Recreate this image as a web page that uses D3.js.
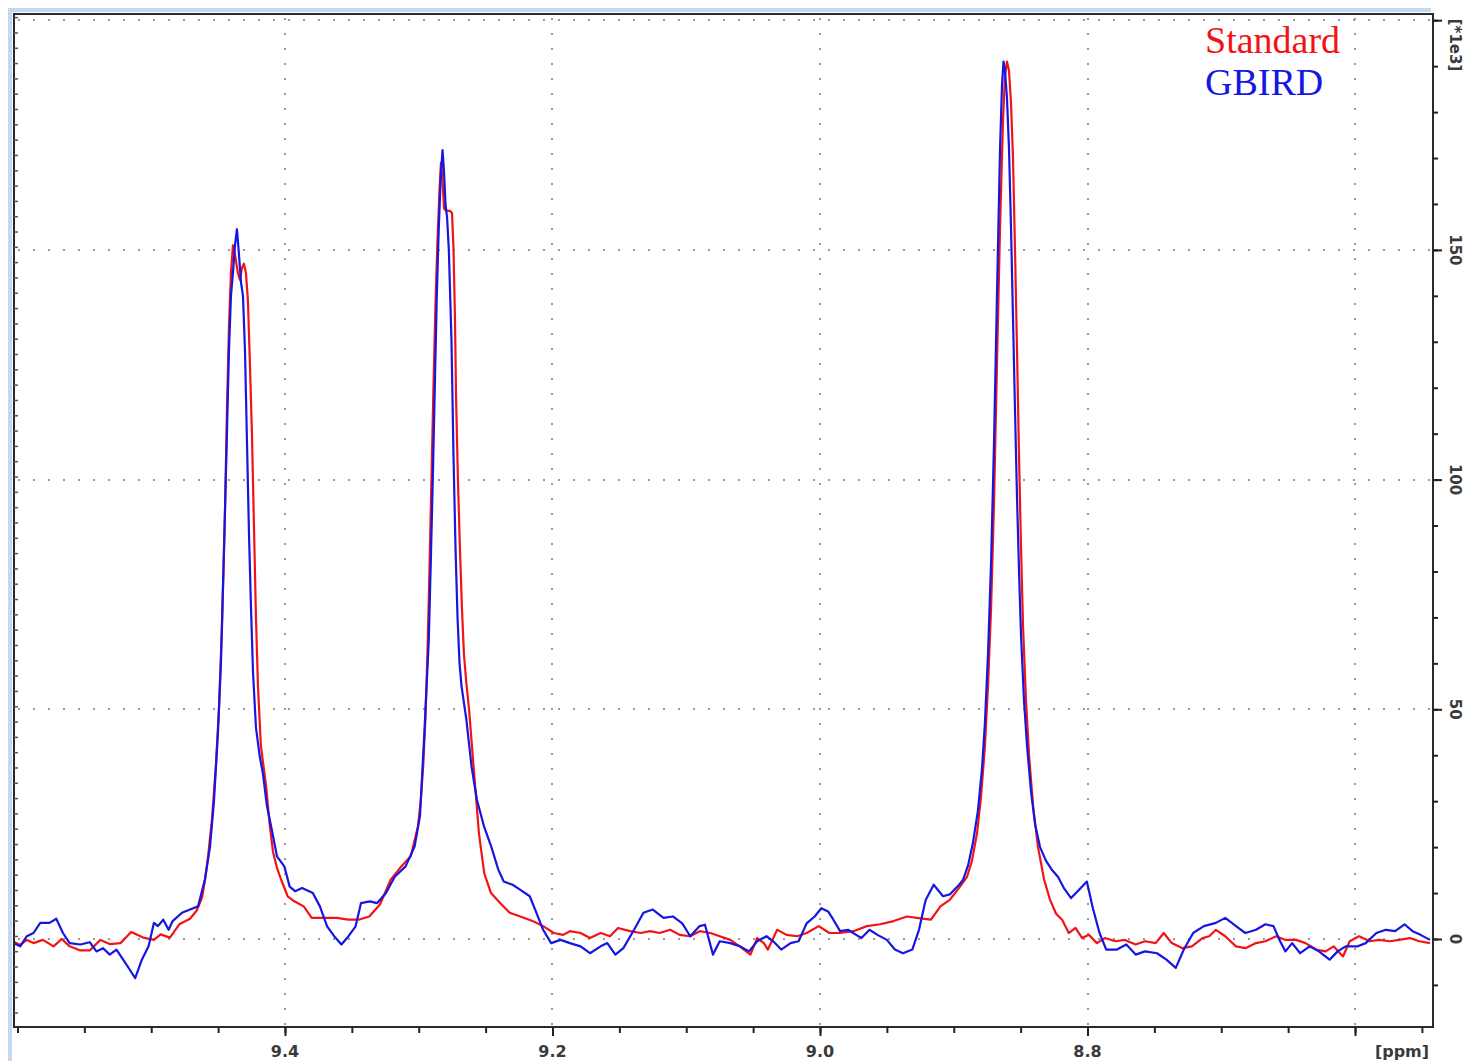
<!DOCTYPE html>
<html>
<head>
<meta charset="utf-8">
<script src="https://cdn.jsdelivr.net/npm/d3@7/dist/d3.min.js"></script>
<style>
  body { margin: 0; background: #fff; }
  svg { display: block; }
</style>
</head>
<body>
<div id="app"></div>
<script>
// [ppm, intensity (*1e3)]
const standardPts = [
  [9.603,-0.6],[9.598,-1.3],[9.593,-0.2],[9.588,-0.9],[9.581,-0.2],[9.573,-1.6],[9.567,0],[9.561,-1.6],
  [9.553,-2.5],[9.546,-2.5],[9.538,-0.2],[9.531,-1.1],[9.523,-0.9],[9.515,1.5],[9.506,0.3],[9.498,-0.2],
  [9.493,1],[9.486,0.3],[9.479,3.2],[9.471,4.4],[9.466,6.2],[9.462,9],
  [9.4598,12.9],[9.4575,18],[9.4546,26],[9.4516,38],[9.4494,50],[9.4471,68],[9.4449,92],[9.4434,115],
  [9.4419,133],[9.4404,145],[9.4389,151],[9.4374,149],[9.4352,145],[9.4337,143.5],[9.4322,146],[9.4307,147],
  [9.4292,145],[9.4277,139],[9.4262,125],[9.4247,110],[9.4232,90],[9.4217,70],[9.4202,55],[9.418,42],
  [9.414,33],[9.4115,25],[9.409,19],[9.406,15.5],[9.403,13],[9.398,9.3],[9.393,8.2],[9.386,7.1],
  [9.38,4.6],[9.371,4.6],[9.361,4.6],[9.353,4.2],[9.345,4.2],[9.337,4.9],[9.329,7.5],[9.321,12.9],
  [9.313,15.8],[9.306,18],[9.3006,24.5],[9.2985,30],[9.2966,38],[9.295,48],[9.2935,62],[9.292,80],
  [9.2905,100],[9.289,120],[9.2875,138],[9.286,152],[9.2845,163],[9.2834,169],[9.2822,165],[9.2811,159],
  [9.2796,158.5],[9.2781,158.5],[9.2766,158.5],[9.2751,158],[9.274,150],[9.2729,135],[9.2721,118],[9.2707,100],
  [9.2692,85],[9.2677,72],[9.2662,62],[9.2645,56],[9.2624,50],[9.259,37.5],[9.255,23],[9.251,14.3],
  [9.246,10],[9.239,7.8],[9.232,5.7],[9.224,4.9],[9.214,3.8],[9.207,2.8],[9.199,1.3],[9.192,0.9],
  [9.187,1.7],[9.179,1.3],[9.172,0.2],[9.164,1.3],[9.157,0.6],[9.151,2.4],[9.142,1.7],[9.134,1.3],
  [9.127,1.7],[9.12,1.3],[9.112,2],[9.105,0.9],[9.097,0.6],[9.09,1.7],[9.082,1.3],[9.075,0.6],
  [9.067,-0.2],[9.06,-1.6],[9.052,-3.4],[9.047,0.2],[9.042,-0.9],[9.039,-2.3],[9.032,2],[9.025,0.9],
  [9.017,0.6],[9.01,1.3],[9.001,2.8],[8.993,1.3],[8.985,1.3],[8.975,1.7],[8.965,2.8],[8.955,3.2],
  [8.945,3.9],[8.935,4.9],[8.925,4.5],[8.917,4.2],[8.91,7.1],[8.903,8.5],[8.895,11.5],
  [8.8901,13.5],[8.8864,17],[8.8826,23],[8.8796,31],[8.8767,42],[8.8744,55],[8.8721,72],[8.8699,95],
  [8.8677,125],[8.8654,155],[8.8632,178],[8.8617,188],[8.8602,191],[8.8587,189],[8.8572,182],[8.8557,170],
  [8.8542,150],[8.8527,128],[8.8512,105],[8.8497,85],[8.8482,68],[8.846,52],[8.8437,40],[8.8407,29],
  [8.837,20],[8.8325,13],[8.828,8.5],[8.8235,5.5],[8.819,4.2],[8.814,1.3],[8.809,2.4],[8.804,0.2],
  [8.799,0.9],[8.793,-0.9],[8.787,0.2],[8.779,-0.5],[8.772,-0.2],[8.764,-1.2],[8.757,-0.5],[8.749,-0.9],
  [8.743,1.3],[8.737,-0.9],[8.729,-2],[8.722,-1.6],[8.714,0.2],[8.709,0.6],[8.704,2],[8.697,0.6],
  [8.689,-1.6],[8.682,-2],[8.674,-0.9],[8.667,-0.5],[8.659,0.6],[8.652,-0.2],[8.644,-0.2],[8.637,-0.9],
  [8.629,-2.3],[8.622,-2.7],[8.616,-1.6],[8.609,-3.8],[8.604,-0.5],[8.597,0.6],[8.589,-0.5],[8.582,-0.2],
  [8.574,-0.5],[8.567,-0.2],[8.559,0.2],[8.552,-0.5],[8.544,-0.9]
];

const gbirdPts = [
  [9.603,-0.9],[9.598,-1.6],[9.593,0.6],[9.588,1.3],[9.583,3.5],[9.576,3.5],[9.571,4.4],[9.566,1.3],
  [9.561,-0.9],[9.553,-1.2],[9.546,-0.7],[9.541,-2.7],[9.536,-2],[9.531,-3.4],[9.526,-2.3],[9.521,-4.5],
  [9.516,-6.7],[9.512,-8.5],[9.507,-4.5],[9.502,-1.6],[9.498,3.5],[9.495,2.8],[9.491,4.2],[9.487,2],
  [9.484,3.9],[9.477,5.7],[9.471,6.4],[9.465,7.1],
  [9.4598,13],[9.4561,20],[9.4531,30],[9.4501,45],[9.4479,60],[9.4456,85],[9.4434,110],[9.4419,128],
  [9.4404,140],[9.4389,145],[9.4374,151],[9.4359,154.5],[9.4344,149],[9.4329,143],[9.4314,140],[9.4299,128],
  [9.4284,108],[9.4269,88],[9.4254,72],[9.4239,58],[9.4217,46],[9.419,40],[9.4165,36],[9.4135,29],
  [9.41,24],[9.406,18],[9.4005,15.8],[9.3965,11.4],[9.3925,10.4],[9.3872,11.1],[9.3792,10],[9.3739,7.1],
  [9.3685,2.75],[9.3632,0.6],[9.3578,-1.2],[9.3525,0.6],[9.3472,2.75],[9.3432,7.8],[9.3365,8.2],[9.3312,7.8],
  [9.3245,10],[9.3178,13.6],[9.3098,15.8],[9.3031,20.1],[9.2991,26.7],[9.2958,44.8],[9.2925,65],[9.291,82],
  [9.2895,100],[9.288,120],[9.2865,140],[9.285,155],[9.2835,166],[9.2822,171.7],[9.2811,167],[9.28,160],
  [9.2788,157],[9.2775,150],[9.2755,130],[9.274,105],[9.2725,85],[9.271,70],[9.2695,60],
  [9.268,55],[9.2645,48],[9.2605,37.5],[9.2565,30.3],[9.2512,24.5],[9.2458,20.1],[9.2405,15.1],[9.2365,12.5],
  [9.2298,11.8],[9.224,10.7],[9.217,9.3],[9.212,5.7],[9.207,2],[9.201,-0.9],[9.194,-0.2],[9.187,-0.9],
  [9.179,-1.6],[9.172,-3.1],[9.164,-1.6],[9.159,-0.9],[9.153,-3.4],[9.147,-2],[9.139,2],[9.132,5.7],
  [9.125,6.4],[9.117,4.6],[9.11,4.9],[9.103,3.4],[9.097,0.6],[9.09,2.8],[9.086,3.1],[9.08,-3.4],
  [9.075,-0.5],[9.067,-0.9],[9.06,-1.6],[9.053,-2.7],[9.047,-0.5],[9.04,0.6],[9.035,-0.5],[9.029,-2.3],
  [9.022,-0.9],[9.016,-0.5],[9.01,3.4],[9.004,4.9],[8.999,6.7],[8.994,6],[8.99,4.2],[8.985,1.7],
  [8.979,2],[8.973,0.9],[8.969,0.2],[8.963,2],[8.957,0.9],[8.95,-0.2],[8.944,-2.3],[8.938,-3.1],
  [8.931,-2.3],[8.926,2],[8.921,8.5],[8.915,11.8],[8.908,9.3],[8.903,9.7],[8.896,11.8],
  [8.893,12.9],[8.8893,16],[8.8856,21],[8.8819,28],[8.8789,37],[8.8767,47],[8.8744,62],[8.8721,82],
  [8.8699,108],[8.8677,140],[8.8654,172],[8.8639,186],[8.8628,191],[8.8617,189],[8.8602,183],[8.8587,172],
  [8.8572,155],[8.8557,135],[8.8542,115],[8.8527,96],[8.8512,80],[8.8497,66],[8.8475,52],[8.8452,42],
  [8.8422,32],[8.8392,25],[8.8355,20],[8.831,17],[8.8265,15],[8.822,13.5],[8.8175,11],[8.8123,8.9],
  [8.807,10.5],[8.8005,12.5],[8.796,6.7],[8.791,1.3],[8.786,-2.3],[8.778,-2.3],[8.771,-1.2],[8.764,-3.4],
  [8.757,-2.7],[8.748,-3.1],[8.741,-4.5],[8.734,-6.3],[8.728,-2.3],[8.721,1.3],[8.713,2.8],[8.704,3.5],
  [8.697,4.6],[8.689,2.8],[8.682,1.3],[8.674,2],[8.667,3.2],[8.661,2.8],[8.656,-0.5],[8.652,-2.7],
  [8.647,-0.9],[8.641,-3.1],[8.634,-1.6],[8.627,-2.7],[8.619,-4.5],[8.613,-2.7],[8.607,-1.6],[8.598,-1.6],
  [8.592,-0.9],[8.584,1.3],[8.577,2],[8.57,1.7],[8.563,3.2],[8.557,1.7],[8.551,0.9],[8.544,-0.2]
];

const seriesNames = ['Standard', 'GBIRD'];
const seriesColors = ['#f21414', '#1616e2'];
const xLabelTicks = [9.4, 9.2, 9.0, 8.8];
const xGridTicks = [9.4, 9.2, 9.0, 8.8, 8.6];
const yLabelTicks = [0, 50, 100, 150];
const yGridTicks = [0, 50, 100, 150, 200];
const xUnit = '[ppm]';
const yUnit = '[*1e3]';

const width = 1466;
const height = 1061;
const pLeft = 14, pRight = 1433, pTop = 14, pBottom = 1027;

const svg = d3.select('#app').append('svg')
  .attr('width', width)
  .attr('height', height);

const x = d3.scaleLinear().domain([9.6026, 8.5417]).range([pLeft, pRight]);
const y = d3.scaleLinear().domain([-19.16, 201.35]).range([pBottom, pTop]);

// window edge (light blue)
svg.append('path')
  .attr('d', `M10,${height} L10,10 L${pRight - 2},10`)
  .attr('fill', 'none')
  .attr('stroke', '#c4d8ee')
  .attr('stroke-width', 4);

// dotted grid
const grid = svg.append('g').attr('stroke', '#9a9a9a').attr('stroke-width', 2).attr('stroke-dasharray', '2,13');
grid.selectAll('.vg').data(xGridTicks).join('line')
  .attr('x1', d => Math.round(x(d))).attr('x2', d => Math.round(x(d)))
  .attr('y1', pTop + 4).attr('y2', pBottom);
grid.selectAll('.hg').data(yGridTicks).join('line')
  .attr('x1', pLeft + 4).attr('x2', pRight)
  .attr('y1', d => Math.round(y(d))).attr('y2', d => Math.round(y(d)));

// legend
const legend = svg.append('g')
  .attr('font-family', '"Liberation Serif", "Times New Roman", serif')
  .attr('font-size', 38);
legend.selectAll('text').data(seriesNames).join('text')
  .attr('x', 1205)
  .attr('y', (d, i) => 53 + i * 42)
  .attr('fill', (d, i) => seriesColors[i])
  .text(d => d);

// spectra
svg.append('clipPath').attr('id', 'clip')
  .append('rect').attr('x', pLeft).attr('y', pTop).attr('width', pRight - pLeft).attr('height', pBottom - pTop);

const line = d3.line()
  .x(d => x(d[0]))
  .y(d => y(d[1]));

svg.append('g').attr('clip-path', 'url(#clip)')
  .selectAll('path').data([standardPts, gbirdPts]).join('path')
  .attr('d', line)
  .attr('fill', 'none')
  .attr('stroke', (d, i) => seriesColors[i])
  .attr('stroke-width', 2.2)
  .attr('stroke-linejoin', 'round');

// frame
svg.append('rect')
  .attr('x', pLeft).attr('y', pTop)
  .attr('width', pRight - pLeft).attr('height', pBottom - pTop)
  .attr('fill', 'none')
  .attr('stroke', '#2a2a2a')
  .attr('stroke-width', 2);

// left inner ticks
svg.append('g').attr('transform', `translate(${pLeft},0)`)
  .call(d3.axisRight(y).tickValues(d3.range(-16, 201, 10 / 3)).tickSize(4).tickFormat(''))
  .call(g => g.select('.domain').remove())
  .call(g => g.selectAll('line').attr('stroke', '#555').attr('stroke-width', 1.5));

// bottom axis
const xMinor = d3.range(8.55, 9.61, 0.05);
svg.append('g').attr('transform', `translate(0,${pBottom})`)
  .call(d3.axisBottom(x).tickValues(xMinor).tickSize(6).tickFormat(''))
  .call(g => g.select('.domain').remove())
  .call(g => g.selectAll('line').attr('stroke', '#222').attr('stroke-width', 2));
svg.append('g').attr('transform', `translate(0,${pBottom})`)
  .call(d3.axisBottom(x).tickValues(xGridTicks).tickSize(9).tickFormat(''))
  .call(g => g.select('.domain').remove())
  .call(g => g.selectAll('line').attr('stroke', '#222').attr('stroke-width', 2));

const labelFont = '"DejaVu Sans", Verdana, sans-serif';
svg.append('g').selectAll('text').data(xLabelTicks).join('text')
  .attr('x', d => x(d))
  .attr('y', 1057)
  .attr('text-anchor', 'middle')
  .attr('font-family', labelFont)
  .attr('font-weight', 'bold')
  .attr('font-size', 16)
  .attr('fill', '#3a3a3a')
  .text(d => d3.format('.1f')(d));

svg.append('text')
  .attr('x', 1402).attr('y', 1057)
  .attr('text-anchor', 'middle')
  .attr('font-family', labelFont)
  .attr('font-weight', 'bold')
  .attr('font-size', 16)
  .attr('fill', '#3a3a3a')
  .text(xUnit);

// right axis
svg.append('g').attr('transform', `translate(${pRight},0)`)
  .call(d3.axisRight(y).tickValues(d3.range(-10, 201, 10)).tickSize(5).tickFormat(''))
  .call(g => g.select('.domain').remove())
  .call(g => g.selectAll('line').attr('stroke', '#222').attr('stroke-width', 2));
svg.append('g').attr('transform', `translate(${pRight},0)`)
  .call(d3.axisRight(y).tickValues(yGridTicks).tickSize(9).tickFormat(''))
  .call(g => g.select('.domain').remove())
  .call(g => g.selectAll('line').attr('stroke', '#222').attr('stroke-width', 2));

svg.append('g').selectAll('text').data(yLabelTicks).join('text')
  .attr('transform', d => `translate(1455,${y(d)}) rotate(90)`)
  .attr('text-anchor', 'middle')
  .attr('dy', '0.35em')
  .attr('font-family', labelFont)
  .attr('font-weight', 'bold')
  .attr('font-size', 15)
  .attr('fill', '#3a3a3a')
  .text(d => d);

svg.append('text')
  .attr('transform', 'translate(1455,45) rotate(90)')
  .attr('text-anchor', 'middle')
  .attr('dy', '0.35em')
  .attr('font-family', labelFont)
  .attr('font-weight', 'bold')
  .attr('font-size', 15)
  .attr('fill', '#3a3a3a')
  .text(yUnit);
</script>
</body>
</html>
